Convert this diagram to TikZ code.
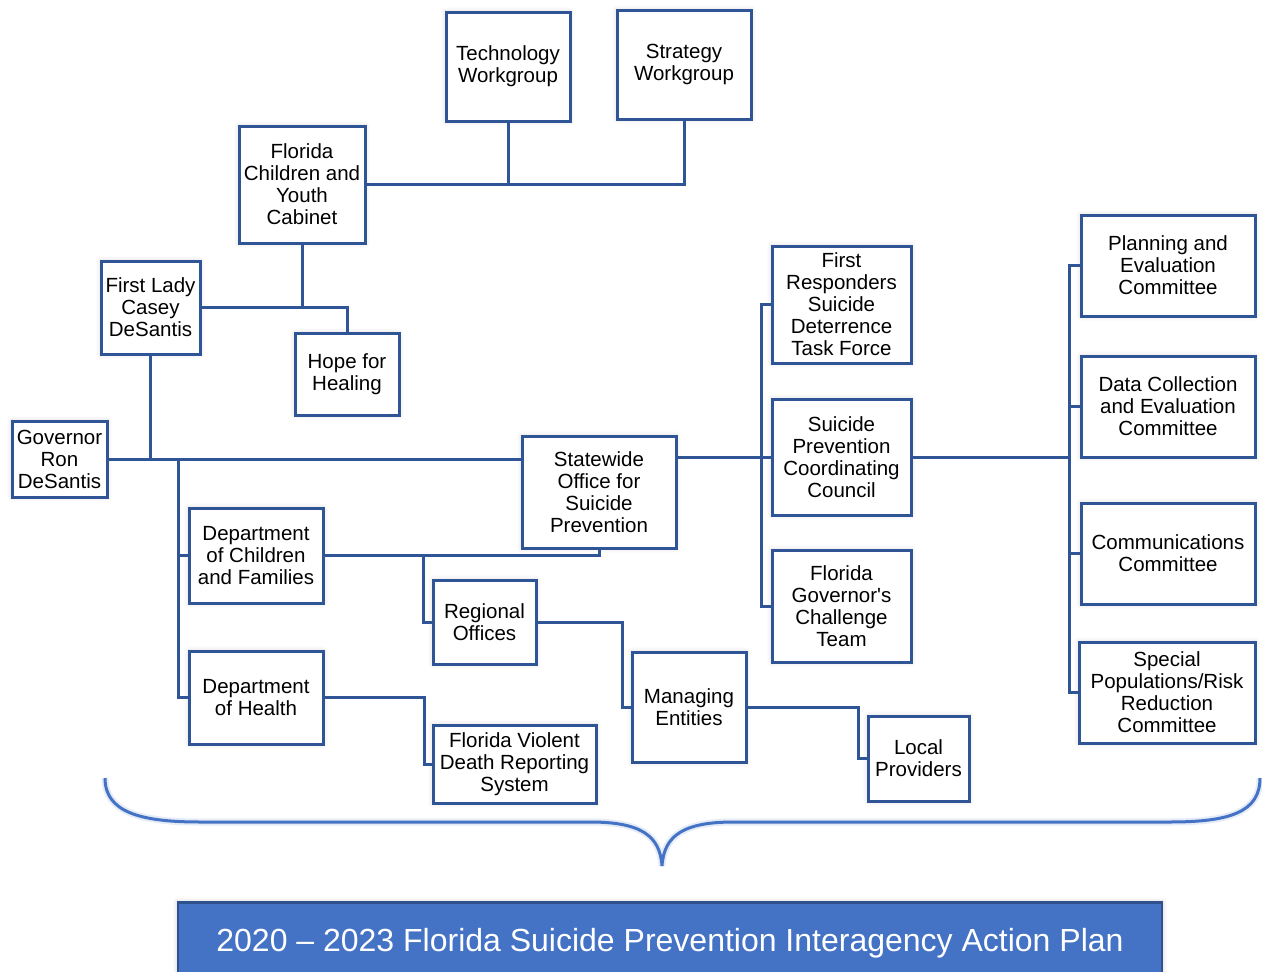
\documentclass[tikz,border=0pt]{standalone}
\usepackage{fontspec}
\setmainfont{Liberation Sans}[Ligatures=TeXOff]
\usetikzlibrary{shadows.blur}

\definecolor{boxline}{RGB}{47,85,151}
\definecolor{planfill}{RGB}{68,114,196}
\definecolor{planline}{RGB}{47,82,143}

\tikzset{
  unit/.style={draw=boxline, line width=3pt, fill=white, align=center,
    inner sep=0pt, font=\fontsize{20.5}{22}\selectfont,
    blur shadow={shadow xshift=0pt, shadow yshift=0pt, shadow blur radius=5pt, shadow opacity=18}},
  link/.style={draw=boxline, line width=3pt, line cap=rect}
}

\begin{document}
\begin{tikzpicture}[x=1pt,y=-1pt]

  \useasboundingbox (0,0) rectangle (1262,972);

%%%%%%%%%%%%%%%%%%%%%%%%%%%%%%%%%%%%%%%%%%
  % Governor side
  \node[unit, minimum width=95, minimum height=76] (gov) at (59.5,459) {Governor\\Ron\\DeSantis};
  \node[unit, minimum width=99, minimum height=93] (lady) at (150.5,307.5) {First Lady\\Casey\\DeSantis};
  \node[unit, minimum width=126, minimum height=117] (cab) at (302,184.5) {Florida\\Children and\\Youth\\Cabinet};
  \node[unit, minimum width=124, minimum height=109] (tech) at (508,66.5) {Technology\\Workgroup};
  \node[unit, minimum width=134, minimum height=109] (strat) at (684,64.5) {Strategy\\Workgroup};
  \node[unit, minimum width=104, minimum height=82] (hope) at (347,374) {Hope for\\Healing};

  % Departments
  \node[unit, minimum width=154, minimum height=112] (sosp) at (599,492) {Statewide\\Office for\\Suicide\\Prevention};
  \node[unit, minimum width=134, minimum height=95] (dcf) at (256,555.5) {Department\\of Children\\and Families};
  \node[unit, minimum width=134, minimum height=93] (doh) at (256,697.5) {Department\\of Health};
  \node[unit, minimum width=103, minimum height=84] (reg) at (484.5,622) {Regional\\Offices};
  \node[unit, minimum width=163, minimum height=78] (fvdrs) at (514.5,764) {Florida Violent\\Death Reporting\\System};
  \node[unit, minimum width=114, minimum height=110] (mng) at (689,707) {Managing\\Entities};
  \node[unit, minimum width=101, minimum height=85] (loc) at (918.5,758.5) {Local\\Providers};

  % Council and committees
  \node[unit, minimum width=139, minimum height=117] (frst) at (841.5,304.5) {First\\Responders\\Suicide\\Deterrence\\Task Force};
  \node[unit, minimum width=139, minimum height=116] (spcc) at (841.5,457) {Suicide\\Prevention\\Coordinating\\Council};
  \node[unit, minimum width=139, minimum height=112] (chall) at (841.5,606) {Florida\\Governor's\\Challenge\\Team};
  \node[unit, minimum width=174, minimum height=101] (plan) at (1168,265.5) {Planning and\\Evaluation\\Committee};
  \node[unit, minimum width=174, minimum height=101] (data) at (1168,406.5) {Data Collection\\and Evaluation\\Committee};
  \node[unit, minimum width=174, minimum height=101] (comm) at (1168,553.5) {Communications\\Committee};
  \node[unit, minimum width=176, minimum height=101] (special) at (1167,692.5) {Special\\Populations/Risk\\Reduction\\Committee};

  % Trunks
  \coordinate (dtrunk) at (178,459);
  \coordinate (dsplit) at (423,555.5);
  \coordinate (ctrunk) at (761,0);
  \coordinate (ktrunk) at (1069,0);

%%%%%%%%%%%%%%%%%%%%%%%%%%%%%%%%%%%%%%%%%%
  % Cabinet and workgroups
  \draw[link] (cab.east) -| (strat.south);
  \draw[link] (tech.south) -- (tech.south |- cab.east);
  \draw[link] (cab.south) -- (cab.south |- lady.east);
  \draw[link] (lady.east) -| (hope.north);
  \draw[link] (lady.south) -- (lady.south |- gov.east);

  % Governor to the office
  \draw[link] (gov.east) -- (gov.east -| sosp.west);
  \draw[link] (dtrunk) |- (dcf.west);
  \draw[link] (dtrunk) |- (doh.west);
  \draw[link] (dcf.east) -| (sosp.south);
  \draw[link] (dsplit) |- (reg.west);
  \draw[link] (reg.east) -- ++(85,0) |- (mng.west);
  \draw[link] (mng.east) -- ++(111,0) |- (loc.west);
  \draw[link] (doh.east) -- ++(100,0) |- (fvdrs.west);

  % Office to council
  \draw[link] (spcc.west -| sosp.east) -- (spcc.west);
  \draw[link] (ctrunk |- frst.west) -- (ctrunk |- chall.west);
  \foreach \n in {frst,chall}
    \draw[link] (ctrunk |- \n.west) -- (\n.west);

  % Council to committees
  \draw[link] (spcc.east) -- (spcc.east -| ktrunk);
  \draw[link] (ktrunk |- plan.west) -- (ktrunk |- special.west);
  \foreach \n in {plan,data,comm,special}
    \draw[link] (ktrunk |- \n.west) -- (\n.west);

  % Brace
  \draw[planfill!35, line width=7pt, opacity=0.4]
    (105,778) .. controls (105,812) and (140,822) .. (200,822) -- (590,822)
    .. controls (640,822) and (660,835) .. (662,866)
    .. controls (664,835) and (684,822) .. (734,822) -- (1170,822)
    .. controls (1230,822) and (1260,812) .. (1260,778);
  \draw[planfill, line width=3pt]
    (105,778) .. controls (105,812) and (140,822) .. (200,822) -- (590,822)
    .. controls (640,822) and (660,835) .. (662,866)
    .. controls (664,835) and (684,822) .. (734,822) -- (1170,822)
    .. controls (1230,822) and (1260,812) .. (1260,778);

  % Plan banner
  \node[draw=planline, line width=2.5pt, fill=planfill, text=white, inner sep=0pt,
    minimum width=984, minimum height=82, font=\fontsize{32}{36}\selectfont,
    blur shadow={shadow xshift=0pt, shadow yshift=0pt, shadow blur radius=5pt, shadow opacity=25}]
    (banner) at (670,943.5) {2020 – 2023 Florida Suicide Prevention Interagency Action Plan};

\end{tikzpicture}
\end{document}
